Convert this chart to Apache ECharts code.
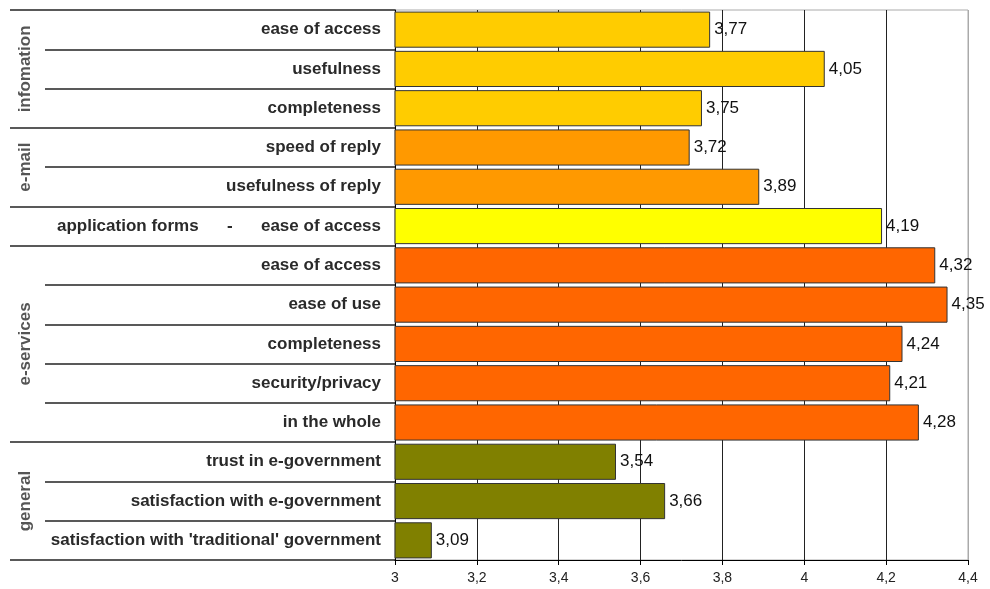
<!DOCTYPE html>
<html>
<head>
<meta charset="UTF-8">
<title>e-government ratings</title>
<script src="https://cdn.jsdelivr.net/npm/echarts@6/dist/echarts.min.js"></script>
<style>
body{margin:0;background:#fff;}
#chart{width:990px;height:589px;}
</style>
</head>
<body>
<div id="chart"></div>
<script type="text/javascript">
// rows, top to bottom
var categories = ['ease of access', 'usefulness', 'completeness',
	'speed of reply', 'usefulness of reply',
	'application forms      -      ease of access',
	'ease of access', 'ease of use', 'completeness', 'security/privacy', 'in the whole',
	'trust in e-government', 'satisfaction with e-government', "satisfaction with 'traditional' government"];
var values = [3.77, 4.05, 3.75, 3.72, 3.89, 4.19, 4.32, 4.35, 4.24, 4.21, 4.28, 3.54, 3.66, 3.09];
// groups on the left
var groupNames = ['infomation', 'e-mail', '', 'e-services', 'general'];
var groupSizes = [3, 2, 1, 5, 3];
var groupColors = ['#FFCC00', '#FF9900', '#FFFF00', '#FF6600', '#808000'];
var xTicks = [3, 3.2, 3.4, 3.6, 3.8, 4, 4.2, 4.4];

var font = "'Liberation Sans', Arial, sans-serif";

// which group each row is in, where each group starts
var rowGroup = [], groupStart = [], s = 0;
for (var g = 0; g < groupSizes.length; g++) {
	groupStart.push(s);
	for (var k = 0; k < groupSizes[g]; k++) rowGroup.push(g);
	s += groupSizes[g];
}

var barData = values.map(function(v, i){
	return {value: v, itemStyle: {color: groupColors[rowGroup[i]]}};
});
var groupLabels = [];
groupNames.forEach(function(n, g){
	if (n) groupLabels.push({name: n, value: [0.45, groupStart[g] + groupSizes[g] / 2]});
});

var gridColors = xTicks.map(function(t, i){ return i == xTicks.length - 1 ? '#aaaaaa' : '#222'; });

var mychart = echarts.init(document.getElementById('chart'));
var option = {
	animation: false,
	grid: [
		{left: 395, right: 22, top: 10, bottom: 29, show: true, borderColor: '#aaaaaa', borderWidth: 1},
		{left: 45, width: 350, top: 10, bottom: 29},
		{left: 10, width: 35, top: 10, bottom: 29}
	],
	xAxis: [
		{gridIndex: 0, type: 'value', min: 3, max: 4.4, interval: 0.2,
			axisLine: {show: true, lineStyle: {color: '#000', width: 1}},
			axisTick: {show: true, length: 5, lineStyle: {color: '#000'}},
			axisLabel: {margin: 11, fontSize: 14, color: '#222', fontFamily: font,
				formatter: function(v){ return String(+v.toFixed(1)).replace('.', ','); }},
			splitLine: {show: true, lineStyle: {color: gridColors, width: 1}}},
		{gridIndex: 1, type: 'value', show: false},
		{gridIndex: 2, type: 'value', min: 0, max: 1, show: false}
	],
	yAxis: [
		{gridIndex: 0, type: 'category', data: categories, inverse: true,
			axisLine: {show: true, lineStyle: {color: '#000', width: 1}},
			axisTick: {show: false},
			axisLabel: {margin: 14, fontSize: 17, fontWeight: 'bold', color: '#2a2a2a', fontFamily: font},
			splitLine: {show: false}},
		{gridIndex: 1, type: 'category', data: categories, inverse: true,
			axisLine: {show: false}, axisTick: {show: false}, axisLabel: {show: false},
			splitLine: {show: true, interval: 0, lineStyle: {color: '#222', width: 1.5}}},
		{gridIndex: 2, type: 'category', data: categories, inverse: true,
			axisLine: {show: false}, axisTick: {show: false}, axisLabel: {show: false},
			splitLine: {show: true, lineStyle: {color: '#222', width: 1.5},
				interval: function(index){ return index == 0 || index >= categories.length || groupStart.indexOf(index) >= 0; }}},
		{gridIndex: 2, type: 'value', min: 0, max: 14, inverse: true, show: false}
	],
	series: [
		{
			type: 'bar',
			xAxisIndex: 0, yAxisIndex: 0,
			data: barData,
			barCategoryGap: '8%',
			itemStyle: {borderColor: '#333', borderWidth: 1},
			label: {show: true, position: 'right', distance: 4, fontSize: 17, color: '#111', fontFamily: font,
				formatter: function(p){ return p.value.toFixed(2).replace('.', ','); }}
		},
		{
			type: 'scatter',
			xAxisIndex: 2, yAxisIndex: 3,
			data: groupLabels,
			symbolSize: 1,
			itemStyle: {color: 'rgba(0,0,0,0)'},
			label: {show: true, position: 'inside', rotate: 90, fontSize: 17, fontWeight: 'bold',
				color: '#2a2a2a', fontFamily: font, formatter: '{b}'}
		}
	]
};
mychart.setOption(option);
</script>
</body>
</html>
